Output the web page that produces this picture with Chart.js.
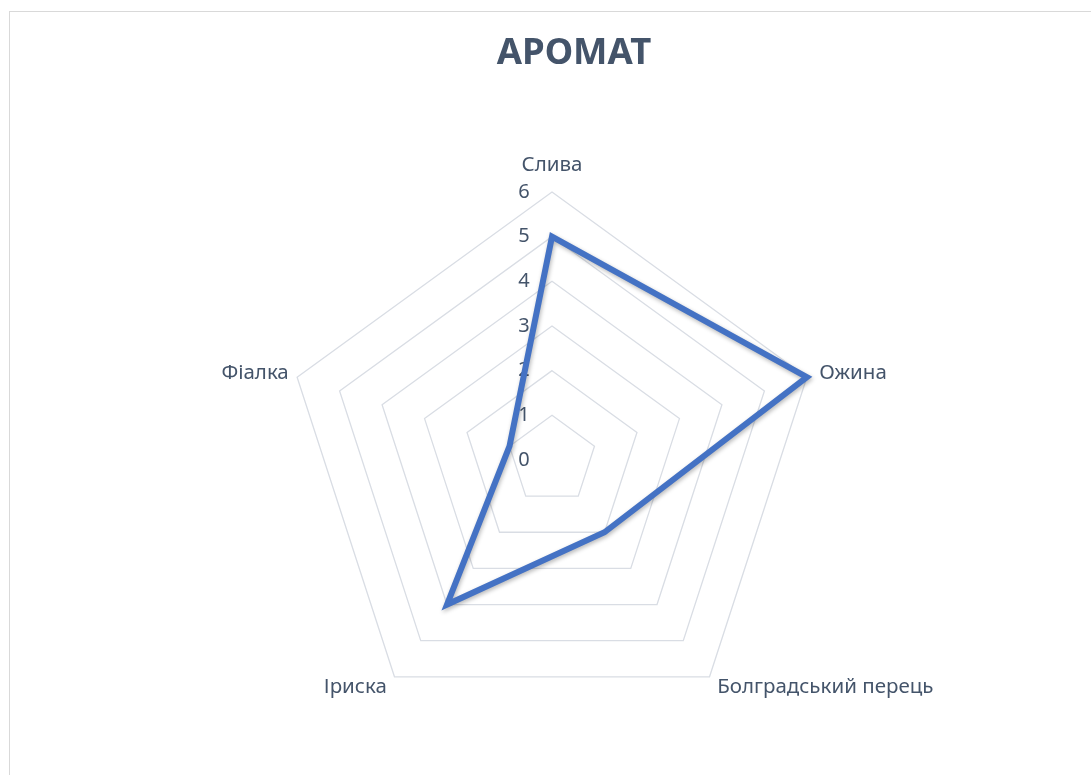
<!DOCTYPE html>
<html>
<head>
<meta charset="utf-8">
<script src="https://cdn.jsdelivr.net/npm/chart.js@4.4.1/dist/chart.umd.min.js"></script>
<style>
  html, body { margin: 0; padding: 0; background: #fff; width: 1091px; height: 775px; overflow: hidden; }
  #wrap {
    position: absolute; left: 9px; top: 11px; width: 1082px; height: 764px;
    box-sizing: border-box;
    border-top: 1px solid #d9d9d9; border-left: 1px solid #d9d9d9;
  }
  #aromaChart { display: block; }
</style>
</head>
<body>
<div id="wrap"><canvas id="aromaChart"></canvas></div>
<script>
const chartTitle = 'АРОМАТ';
const categories = ['Слива', 'Ожина', 'Болградський перець', 'Іриска', 'Фіалка'];
const aromaValues = [5, 6, 2, 4, 1];
const tickValues = [0, 1, 2, 3, 4, 5, 6];

const textColor = '#44546A';
const fontFamily = '"Noto Sans", "Open Sans", sans-serif';

// Excel puts the title a bit right of the plot centre, tick numbers left of the
// vertical axis and category names close to the outer vertices
const excelLabels = {
  id: 'excelLabels',
  beforeDatasetsDraw(chart) {
    const scale = chart.scales.r;
    const ctx = chart.ctx;
    ctx.save();
    ctx.fillStyle = textColor;
    ctx.textBaseline = 'middle';
    ctx.textAlign = 'center';

    ctx.font = `bold 36.5px ${fontFamily}`;
    ctx.fillText(chartTitle, scale.xCenter + 22, 42);

    ctx.font = `20px ${fontFamily}`;
    tickValues.forEach(v => {
      const d = scale.getDistanceFromCenterForValue(v);
      ctx.fillText(String(v), scale.xCenter - 28, scale.yCenter - d);
    });

    ctx.font = `20.5px ${fontFamily}`;
    categories.forEach((name, i) => {
      const gap = i === 0 ? 27 : 13;
      const p = scale.getPointPosition(i, scale.drawingArea + gap);
      if (Math.abs(p.x - scale.xCenter) < 1) ctx.textAlign = 'center';
      else ctx.textAlign = p.x > scale.xCenter ? 'left' : 'right';
      ctx.fillText(name, p.x + (i === 4 ? 4 : 0), p.y);
    });
    ctx.restore();
  }
};

const lineShadow = {
  id: 'lineShadow',
  beforeDatasetDraw(chart) {
    const ctx = chart.ctx;
    ctx.save();
    ctx.shadowColor = 'rgba(0, 0, 0, 0.28)';
    ctx.shadowBlur = 4;
    ctx.shadowOffsetX = 1;
    ctx.shadowOffsetY = 2;
  },
  afterDatasetDraw(chart) {
    chart.ctx.restore();
  }
};

const ctx = document.getElementById('aromaChart').getContext('2d');
const aromaChart = new Chart(ctx, {
  type: 'radar',
  data: {
    labels: categories,
    datasets: [{
      label: chartTitle,
      data: aromaValues,
      borderColor: '#4472C4',
      borderWidth: 6,
      borderJoinStyle: 'miter',
      fill: false,
      tension: 0,
      pointRadius: 0,
      pointHoverRadius: 0
    }]
  },
  options: {
    responsive: true,
    maintainAspectRatio: false,
    animation: false,
    layout: {
      padding: { left: 3, right: 0, top: 180, bottom: 47 }
    },
    plugins: {
      legend: { display: false },
      tooltip: { enabled: false },
      title: { display: false }
    },
    scales: {
      r: {
        min: 0,
        max: 6,
        ticks: { display: false, stepSize: 1 },
        grid: { color: '#D9DDE4', lineWidth: 1.3 },
        angleLines: { display: false },
        pointLabels: { display: false }
      }
    }
  },
  plugins: [excelLabels, lineShadow]
});
</script>
</body>
</html>
